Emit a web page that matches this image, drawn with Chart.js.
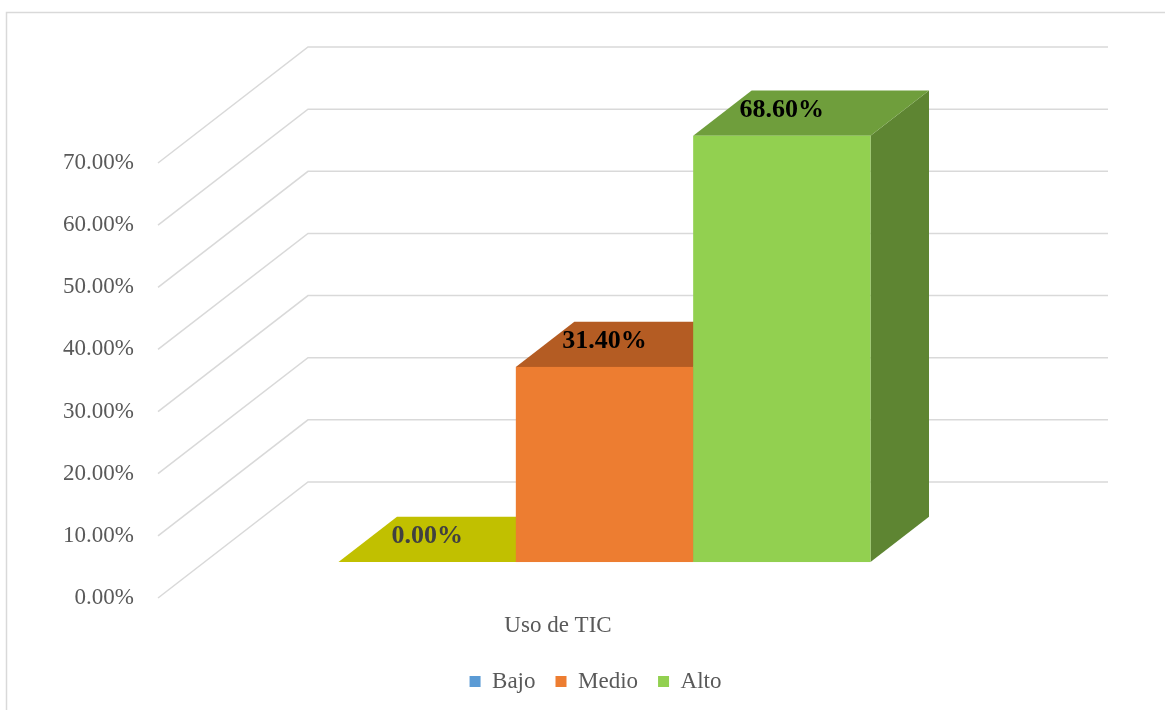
<!DOCTYPE html>
<html>
<head>
<meta charset="utf-8">
<script src="https://cdn.jsdelivr.net/npm/chart.js@4.4.1/dist/chart.umd.min.js"></script>
<style>
  html, body { margin: 0; padding: 0; background: #fff; }
  #chart { display: block; width: 1165px; height: 710px; }
</style>
</head>
<body>
<canvas id="chart" width="1165" height="710"></canvas>
<script>
// Datos del gráfico
const categories = ['Uso de TIC'];
const seriesNames = ['Bajo', 'Medio', 'Alto'];
const bajoValues = [0.0];
const medioValues = [0.314];
const altoValues = [0.686];
const yMax = 0.7;
const yStep = 0.1;

// Colores (frente, tapa, lateral)
const frontColors = ['#5b9bd5', '#ed7d31', '#92d050'];
const topColors = ['#c1c000', '#b45c23', '#6f9e3c'];
const sideColors = ['#a0a000', '#a85320', '#5e8532'];
const labelColors = ['#404040', '#000000', '#000000'];

// Profundidad del efecto 3D (vector completo de la pared lateral)
const depth = { dx: 150, dy: -116, front: 0.31, back: 0.70 };

const serif = '"Liberation Serif", "Times New Roman", serif';

function formatPct(v) {
    return (v * 100).toFixed(2) + '%';
}

function poly(ctx, pts, color) {
    ctx.fillStyle = color;
    ctx.beginPath();
    ctx.moveTo(pts[0][0], pts[0][1]);
    for (let k = 1; k < pts.length; k++) ctx.lineTo(pts[k][0], pts[k][1]);
    ctx.closePath();
    ctx.fill();
}

// Plugin para dibujar las paredes y las barras en 3D
const bars3d = {
    id: 'bars3d',
    beforeDraw(chart) {
        const ctx = chart.ctx;
        ctx.save();
        ctx.fillStyle = '#ffffff';
        ctx.fillRect(0, 0, chart.width, chart.height);
        ctx.strokeStyle = '#d9d9d9';
        ctx.lineWidth = 1.5;
        ctx.strokeRect(6.5, 12.5, 1400, 900);
        ctx.restore();
    },
    beforeDatasetsDraw(chart) {
        const ctx = chart.ctx;
        const yScale = chart.scales.y;
        const area = chart.chartArea;
        ctx.save();

        // Paredes: lateral (diagonal) y fondo (horizontal)
        ctx.strokeStyle = '#d9d9d9';
        ctx.lineWidth = 1.5;
        yScale.ticks.forEach(t => {
            const py = yScale.getPixelForValue(t.value);
            ctx.beginPath();
            ctx.moveTo(area.left, py);
            ctx.lineTo(area.left + depth.dx, py + depth.dy);
            ctx.lineTo(area.right + depth.dx, py + depth.dy);
            ctx.stroke();
        });

        const fx = depth.dx * depth.front, fy = depth.dy * depth.front;
        const bx = depth.dx * (depth.back - depth.front);
        const by = depth.dy * (depth.back - depth.front);
        const labels = [];

        chart.data.datasets.forEach((ds, i) => {
            const meta = chart.getDatasetMeta(i);
            meta.data.forEach((el, j) => {
                const p = el.getProps(['x', 'y', 'base', 'width'], true);
                const l = p.x - p.width / 2 + fx;
                const r = p.x + p.width / 2 + fx;
                const t = p.y + fy;
                const b = p.base + fy;
                // lateral
                poly(ctx, [[r, t], [r + bx, t + by], [r + bx, b + by], [r, b]], sideColors[i]);
                // tapa
                poly(ctx, [[l, t], [l + bx, t + by], [r + bx, t + by], [r, t]], topColors[i]);
                // frente
                if (b - t > 0.5) {
                    ctx.fillStyle = frontColors[i];
                    ctx.fillRect(l, t, r - l, b - t);
                }
                labels.push({ text: formatPct(ds.data[j]), x: (l + r) / 2, y: t + by / 2 - 3, color: labelColors[i] });
            });
        });

        // Etiquetas de datos
        ctx.font = 'bold 26px ' + serif;
        ctx.textAlign = 'center';
        ctx.textBaseline = 'middle';
        labels.forEach(lb => {
            ctx.fillStyle = lb.color;
            ctx.fillText(lb.text, lb.x, lb.y);
        });

        ctx.restore();
        return false; // las barras ya están dibujadas
    }
};

const seriesValues = [bajoValues, medioValues, altoValues];

new Chart(document.getElementById('chart').getContext('2d'), {
    type: 'bar',
    data: {
        labels: categories,
        datasets: seriesNames.map((name, i) => ({
            label: name,
            data: seriesValues[i],
            backgroundColor: frontColors[i],
            borderWidth: 0,
            barPercentage: 1,
            categoryPercentage: 0.665
        }))
    },
    options: {
        responsive: false,
        animation: false,
        devicePixelRatio: 1,
        layout: {
            padding: { left: 26, top: 163, right: 0, bottom: 7 }
        },
        scales: {
            x: {
                grid: { display: false, drawTicks: false },
                border: { display: false },
                ticks: {
                    color: '#595959',
                    padding: 14,
                    font: { family: serif, size: 23 }
                },
                afterFit: s => { s.height = 52; }
            },
            y: {
                min: 0,
                max: yMax,
                grid: { display: false, drawTicks: false },
                border: { display: false },
                ticks: {
                    stepSize: yStep,
                    color: '#595959',
                    padding: 24,
                    font: { family: serif, size: 23 },
                    callback: v => formatPct(v)
                },
                afterFit: s => { s.width = 132; }
            },
            yr: {
                position: 'right',
                display: true,
                grid: { display: false, drawTicks: false },
                border: { display: false },
                ticks: { display: false },
                afterFit: s => { s.width = 207; }
            }
        },
        plugins: {
            legend: {
                position: 'bottom',
                labels: {
                    boxWidth: 11,
                    boxHeight: 11,
                    padding: 20,
                    color: '#595959',
                    font: { family: serif, size: 23 }
                }
            },
            tooltip: { enabled: false }
        }
    },
    plugins: [bars3d]
});
</script>
</body>
</html>
